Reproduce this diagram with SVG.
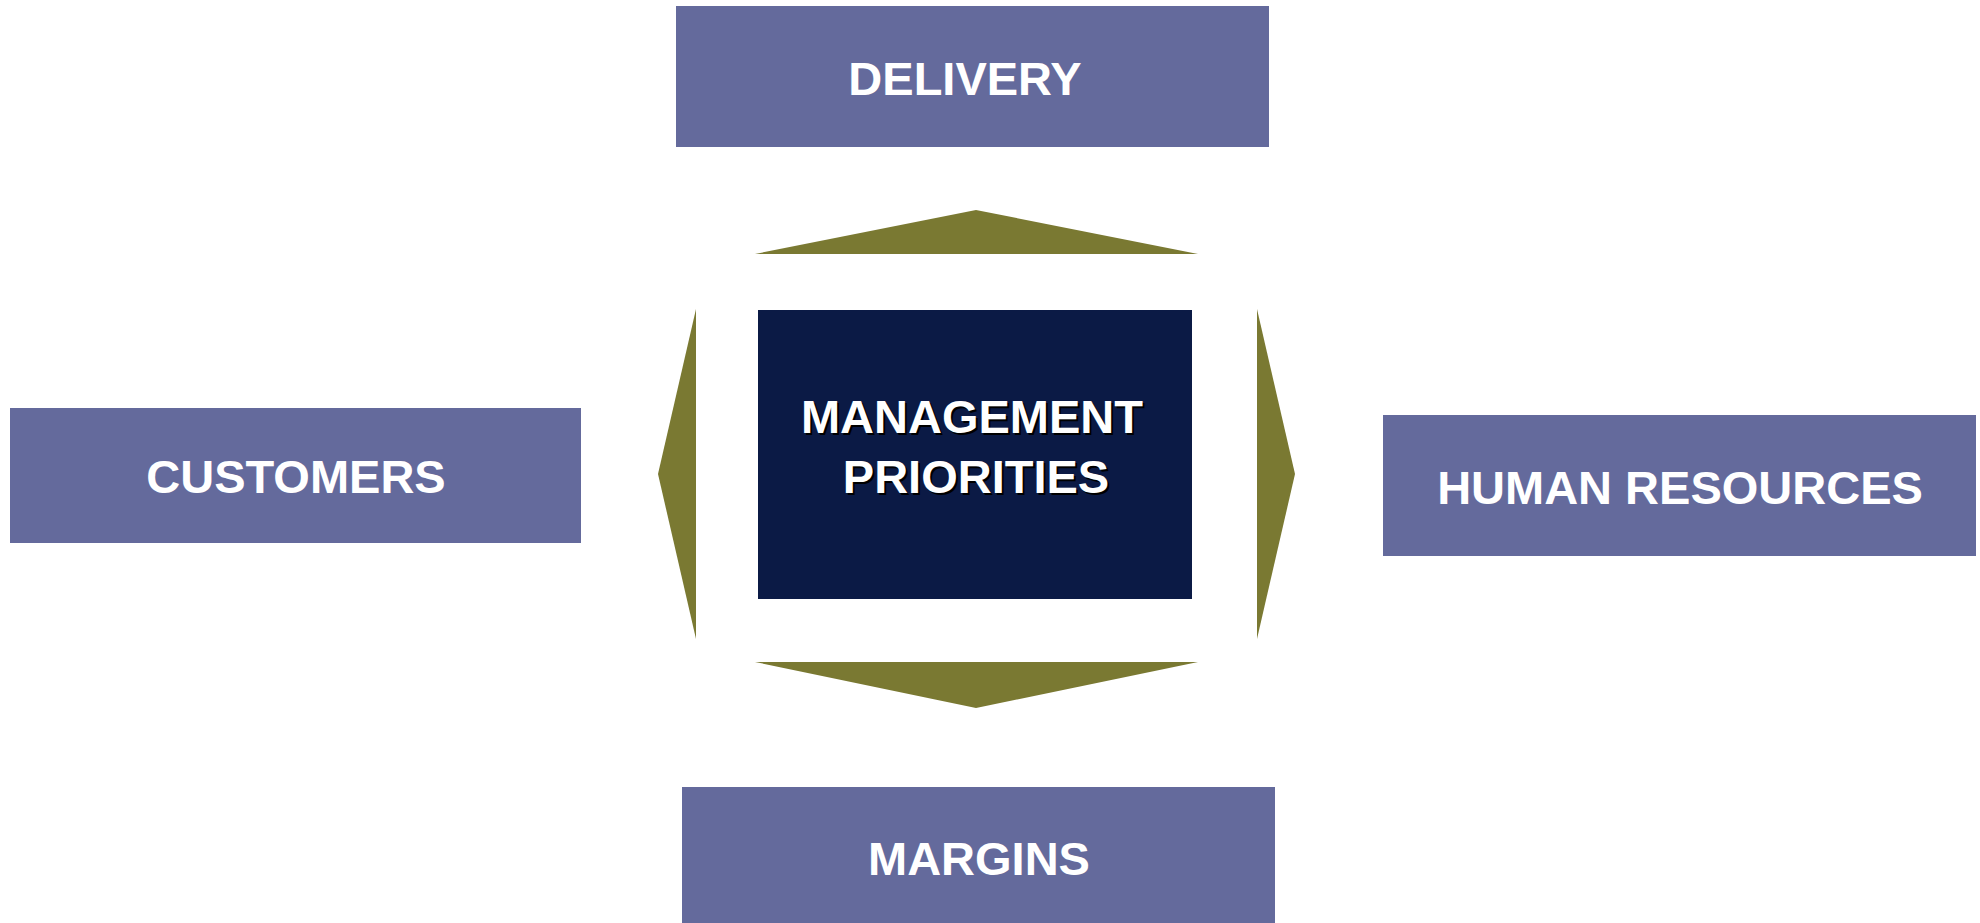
<svg xmlns="http://www.w3.org/2000/svg" width="1980" height="923" viewBox="0 0 1980 923">
<style>
.box{fill:#646a9c}
.core{fill:#0b1a45}
.arrow{fill:#7a7932}
.lbl{font-family:"Liberation Sans",Arial,sans-serif;font-weight:bold;font-size:47px;fill:#ffffff;text-anchor:middle}
.shadow{font-family:"Liberation Sans",Arial,sans-serif;font-weight:bold;font-size:47px;fill:#000000;text-anchor:middle}
</style>
<rect width="1980" height="923" fill="#ffffff"/>
<g id="delivery">
<rect class="box" x="676" y="6" width="593" height="141"/>
<text class="lbl" x="965" y="94.5">DELIVERY</text>
</g>
<g id="customers">
<rect class="box" x="10" y="408" width="571" height="135"/>
<text class="lbl" x="296" y="492.5">CUSTOMERS</text>
</g>
<g id="human-resources">
<rect class="box" x="1383" y="415" width="593" height="141"/>
<text class="lbl" x="1680" y="504">HUMAN RESOURCES</text>
</g>
<g id="margins">
<rect class="box" x="682" y="787" width="593" height="136"/>
<text class="lbl" x="979" y="875">MARGINS</text>
</g>
<g id="management-priorities">
<rect class="core" x="758" y="310" width="434" height="289"/>
<text class="shadow" x="974" y="435">MANAGEMENT</text>
<text class="shadow" x="978" y="495">PRIORITIES</text>
<text class="lbl" x="972" y="433">MANAGEMENT</text>
<text class="lbl" x="976" y="493">PRIORITIES</text>
</g>
<g id="connectors">
<polygon class="arrow" points="755,254 976,210 1198,254"/>
<polygon class="arrow" points="755,662 1198,662 976,708"/>
<polygon class="arrow" points="696,309 696,639 658,474"/>
<polygon class="arrow" points="1257,309 1295,474 1257,639"/>
</g>
</svg>
